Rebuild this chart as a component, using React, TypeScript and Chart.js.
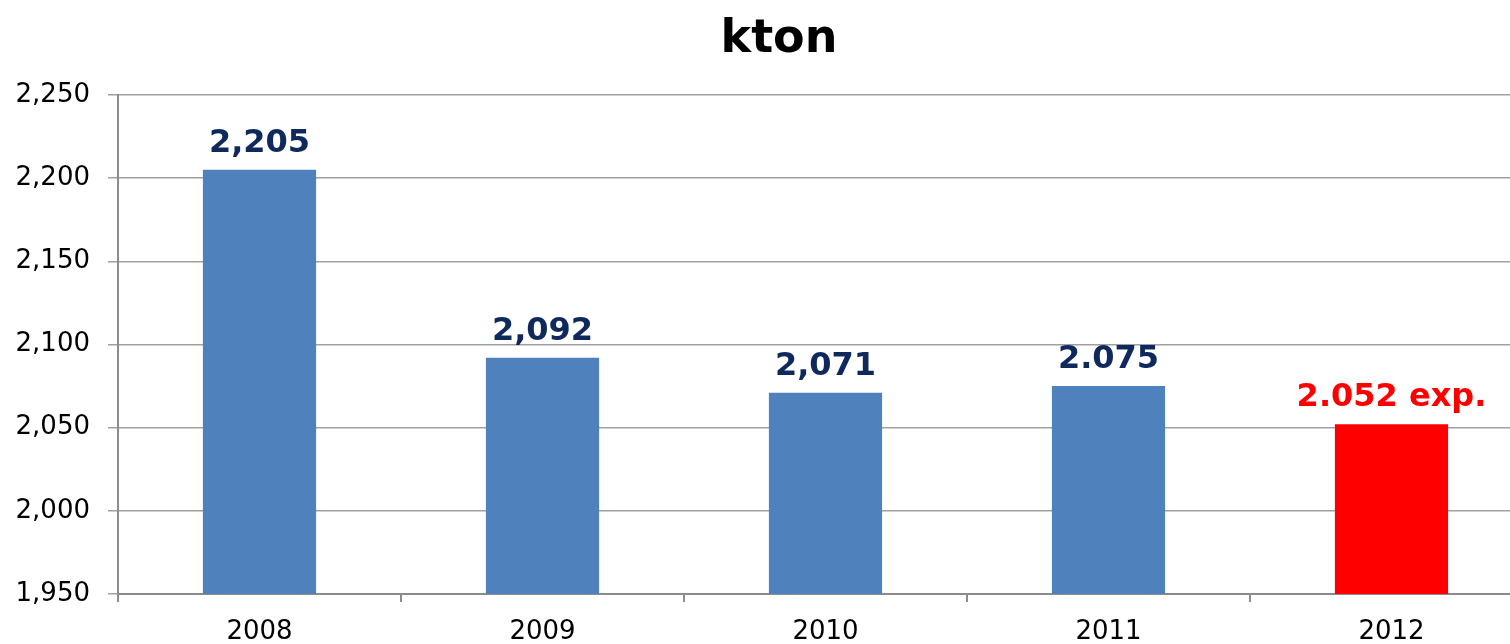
import React, { useEffect, useRef } from "react";
import { Chart, registerables } from "chart.js";

Chart.register(...registerables);

const categories = ["2008", "2009", "2010", "2011", "2012"];
const values = [2205, 2092, 2071, 2075, 2052];
const valueLabels = ["2,205", "2,092", "2,071", "2.075", "2.052 exp."];
const barColors = ["#4F81BD", "#4F81BD", "#4F81BD", "#4F81BD", "#FF0000"];
const labelColors = ["#10295C", "#10295C", "#10295C", "#10295C", "#FF0000"];
const yMin = 1950;
const yMax = 2250;
const yStep = 50;
const titleText = "kton";

const FONT = "'DejaVu Sans', Verdana, sans-serif";

const dataLabelPlugin = {
  id: "dataLabels",
  afterDatasetsDraw(chart: any) {
    const ctx = chart.ctx;
    const meta = chart.getDatasetMeta(0);
    ctx.save();
    ctx.font = `bold 32px ${FONT}`;
    ctx.textAlign = "center";
    ctx.textBaseline = "alphabetic";
    meta.data.forEach((bar: any, i: number) => {
      ctx.fillStyle = labelColors[i];
      ctx.fillText(valueLabels[i], bar.x, bar.y - 18);
    });
    ctx.restore();
  },
};

const titlePlugin = {
  id: "customTitle",
  afterDraw(chart: any) {
    const ctx = chart.ctx;
    ctx.save();
    ctx.font = `bold 46px ${FONT}`;
    ctx.fillStyle = "#000";
    ctx.textAlign = "center";
    ctx.textBaseline = "alphabetic";
    ctx.fillText(titleText, 779, 52);
    ctx.restore();
  },
};

export default function App() {
  const ref = useRef<HTMLCanvasElement | null>(null);

  useEffect(() => {
    if (!ref.current) return;
    const chart = new Chart(ref.current, {
      type: "bar",
      data: {
        labels: categories,
        datasets: [
          {
            data: values,
            backgroundColor: barColors,
            barPercentage: 0.4,
            categoryPercentage: 1,
          },
        ],
      },
      options: {
        animation: false,
        responsive: false,
        maintainAspectRatio: false,
        layout: { padding: { top: 95, left: 0, right: 0, bottom: 0 } },
        plugins: {
          legend: { display: false },
          tooltip: { enabled: false },
          title: { display: false },
        },
        scales: {
          x: {
            grid: {
              offset: true,
              drawOnChartArea: false,
              drawTicks: true,
              tickLength: 8,
              color: "#8c8c8c",
              lineWidth: 2,
            },
            border: { color: "#8c8c8c", width: 2 },
            ticks: {
              color: "#000",
              font: { family: FONT, size: 26 },
              padding: 15,
            },
            afterFit: (scale: any) => {
              scale.height = 66;
            },
          },
          y: {
            min: yMin,
            max: yMax,
            grid: {
              color: "#a0a0a0",
              lineWidth: 1.5,
              tickLength: 10,
            },
            border: { color: "#8c8c8c", width: 2 },
            ticks: {
              stepSize: yStep,
              color: "#000",
              font: { family: FONT, size: 26 },
              padding: 18,
              callback: (v: any) => Number(v).toLocaleString("en-US"),
            },
            afterFit: (scale: any) => {
              scale.width = 118;
            },
          },
        },
      },
      plugins: [dataLabelPlugin, titlePlugin],
    });
    return () => chart.destroy();
  }, []);

  return (
    <div
      style={{
        position: "absolute",
        left: 0,
        top: 0,
        width: 1510,
        height: 644,
        overflow: "hidden",
        background: "#fff",
      }}
    >
      <canvas ref={ref} width={1533} height={660} style={{ display: "block" }} />
    </div>
  );
}
